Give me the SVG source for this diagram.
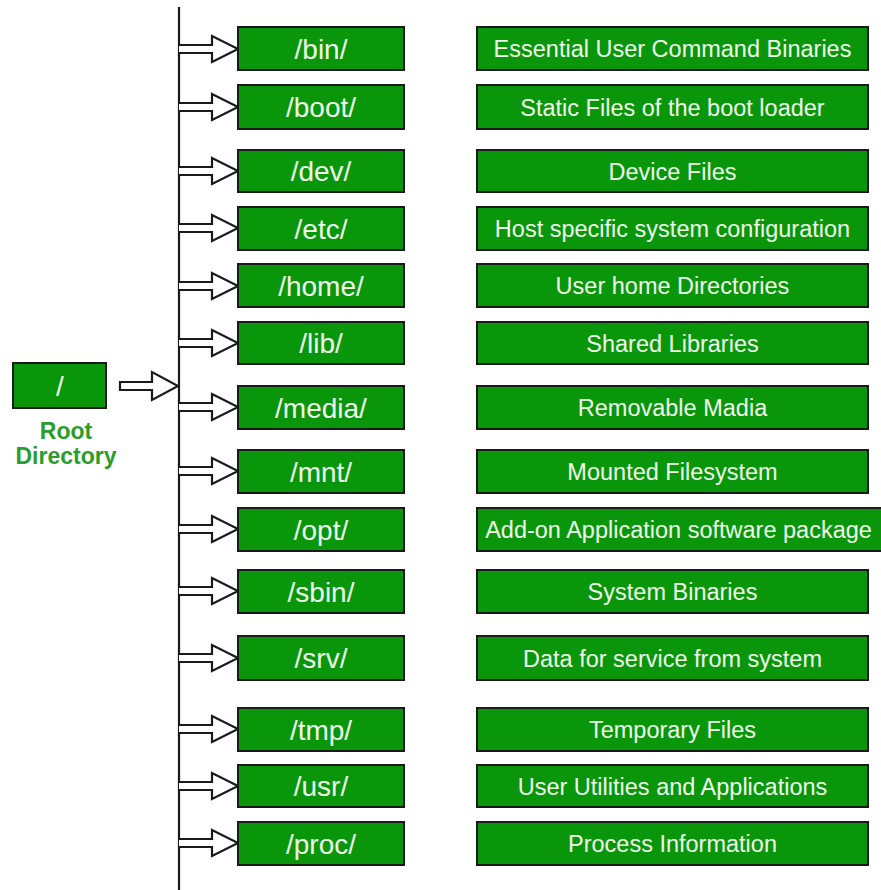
<svg xmlns="http://www.w3.org/2000/svg" width="881" height="890" viewBox="0 0 881 890">
  <style>
    .box { fill: #0a960a; stroke: #1a1a1a; stroke-width: 2; }
    .dir { font-family: "Liberation Sans", Arial, sans-serif; font-size: 28px; fill: #eefbea; text-anchor: middle; }
    .desc { font-family: "Liberation Sans", Arial, sans-serif; font-size: 23.5px; fill: #eefbea; text-anchor: middle; }
    .rootlbl { font-family: "Liberation Sans", Arial, sans-serif; font-size: 23px; font-weight: bold; fill: #2a9d2a; text-anchor: middle; }
    .arrow { fill: #ffffff; stroke: #1a1a1a; stroke-width: 2.2; stroke-linejoin: miter; }
    .trunk { stroke: #1a1a1a; stroke-width: 2.2; fill: none; }
  </style>
  <rect width="881" height="890" fill="#ffffff"/>

  <g id="connectors">
    <line class="trunk" x1="179" y1="7" x2="179" y2="890"/>
    <path class="arrow" d="M120,382 L152,382 L152,372 L178,386 L152,400 L152,390 L120,390 Z"/>
    <path class="arrow" d="M179,45 L212,45 L212,36 L238,49 L212,62 L212,53 L179,53"/>
    <path class="arrow" d="M179,103 L212,103 L212,94 L238,107 L212,120 L212,111 L179,111"/>
    <path class="arrow" d="M179,167 L212,167 L212,158 L238,171 L212,184 L212,175 L179,175"/>
    <path class="arrow" d="M179,224 L212,224 L212,215 L238,228 L212,241 L212,232 L179,232"/>
    <path class="arrow" d="M179,282 L212,282 L212,273 L238,286 L212,299 L212,290 L179,290"/>
    <path class="arrow" d="M179,339 L212,339 L212,330 L238,343 L212,356 L212,347 L179,347"/>
    <path class="arrow" d="M179,403 L212,403 L212,394 L238,407 L212,420 L212,411 L179,411"/>
    <path class="arrow" d="M179,467 L212,467 L212,458 L238,471 L212,484 L212,475 L179,475"/>
    <path class="arrow" d="M179,525 L212,525 L212,516 L238,529 L212,542 L212,533 L179,533"/>
    <path class="arrow" d="M179,587 L212,587 L212,578 L238,591 L212,604 L212,595 L179,595"/>
    <path class="arrow" d="M179,654 L212,654 L212,645 L238,658 L212,671 L212,662 L179,662"/>
    <path class="arrow" d="M179,725 L212,725 L212,716 L238,729 L212,742 L212,733 L179,733"/>
    <path class="arrow" d="M179,782 L212,782 L212,773 L238,786 L212,799 L212,790 L179,790"/>
    <path class="arrow" d="M179,839 L212,839 L212,830 L238,843 L212,856 L212,847 L179,847"/>
  </g>

  <g id="root">
    <rect class="box" x="13" y="363" width="93" height="45"/>
    <text class="dir" x="60" y="396">/</text>
    <text class="rootlbl" x="66" y="439">Root</text>
    <text class="rootlbl" x="66" y="464">Directory</text>
  </g>

  <g id="bin"><rect class="box" x="238" y="27" width="166" height="43"/><text class="dir" x="321" y="58.5">/bin/</text></g>
  <g id="boot"><rect class="box" x="238" y="85" width="166" height="44"/><text class="dir" x="321" y="117">/boot/</text></g>
  <g id="dev"><rect class="box" x="238" y="150" width="166" height="42"/><text class="dir" x="321" y="181">/dev/</text></g>
  <g id="etc"><rect class="box" x="238" y="207" width="166" height="43"/><text class="dir" x="321" y="238.5">/etc/</text></g>
  <g id="home"><rect class="box" x="238" y="264" width="166" height="43"/><text class="dir" x="321" y="295.5">/home/</text></g>
  <g id="lib"><rect class="box" x="238" y="322" width="166" height="42"/><text class="dir" x="321" y="353">/lib/</text></g>
  <g id="media"><rect class="box" x="238" y="386" width="166" height="43"/><text class="dir" x="321" y="417.5">/media/</text></g>
  <g id="mnt"><rect class="box" x="238" y="450" width="166" height="43"/><text class="dir" x="321" y="481.5">/mnt/</text></g>
  <g id="opt"><rect class="box" x="238" y="508" width="166" height="43"/><text class="dir" x="321" y="539.5">/opt/</text></g>
  <g id="sbin"><rect class="box" x="238" y="570" width="166" height="43"/><text class="dir" x="321" y="601.5">/sbin/</text></g>
  <g id="srv"><rect class="box" x="238" y="636" width="166" height="44"/><text class="dir" x="321" y="668">/srv/</text></g>
  <g id="tmp"><rect class="box" x="238" y="708" width="166" height="43"/><text class="dir" x="321" y="739.5">/tmp/</text></g>
  <g id="usr"><rect class="box" x="238" y="765" width="166" height="42"/><text class="dir" x="321" y="796">/usr/</text></g>
  <g id="proc"><rect class="box" x="238" y="822" width="166" height="43"/><text class="dir" x="321" y="853.5">/proc/</text></g>

  <g id="bin-desc"><rect class="box" x="477" y="27" width="391" height="43"/><text class="desc" x="672.5" y="57">Essential User Command Binaries</text></g>
  <g id="boot-desc"><rect class="box" x="477" y="85" width="391" height="44"/><text class="desc" x="672.5" y="115.5">Static Files of the boot loader</text></g>
  <g id="dev-desc"><rect class="box" x="477" y="150" width="391" height="42"/><text class="desc" x="672.5" y="179.5">Device Files</text></g>
  <g id="etc-desc"><rect class="box" x="477" y="207" width="391" height="43"/><text class="desc" x="672.5" y="237">Host specific system configuration</text></g>
  <g id="home-desc"><rect class="box" x="477" y="264" width="391" height="43"/><text class="desc" x="672.5" y="294">User home Directories</text></g>
  <g id="lib-desc"><rect class="box" x="477" y="322" width="391" height="42"/><text class="desc" x="672.5" y="351.5">Shared Libraries</text></g>
  <g id="media-desc"><rect class="box" x="477" y="386" width="391" height="43"/><text class="desc" x="672.5" y="416">Removable Madia</text></g>
  <g id="mnt-desc"><rect class="box" x="477" y="450" width="391" height="43"/><text class="desc" x="672.5" y="480">Mounted Filesystem</text></g>
  <g id="opt-desc"><rect class="box" x="477" y="508" width="408" height="43"/><text class="desc" x="678.5" y="538">Add-on Application software package</text></g>
  <g id="sbin-desc"><rect class="box" x="477" y="570" width="391" height="43"/><text class="desc" x="672.5" y="600">System Binaries</text></g>
  <g id="srv-desc"><rect class="box" x="477" y="636" width="391" height="44"/><text class="desc" x="672.5" y="666.5">Data for service from system</text></g>
  <g id="tmp-desc"><rect class="box" x="477" y="708" width="391" height="43"/><text class="desc" x="672.5" y="738">Temporary Files</text></g>
  <g id="usr-desc"><rect class="box" x="477" y="765" width="391" height="42"/><text class="desc" x="672.5" y="794.5">User Utilities and Applications</text></g>
  <g id="proc-desc"><rect class="box" x="477" y="822" width="391" height="43"/><text class="desc" x="672.5" y="852">Process Information</text></g>
</svg>
